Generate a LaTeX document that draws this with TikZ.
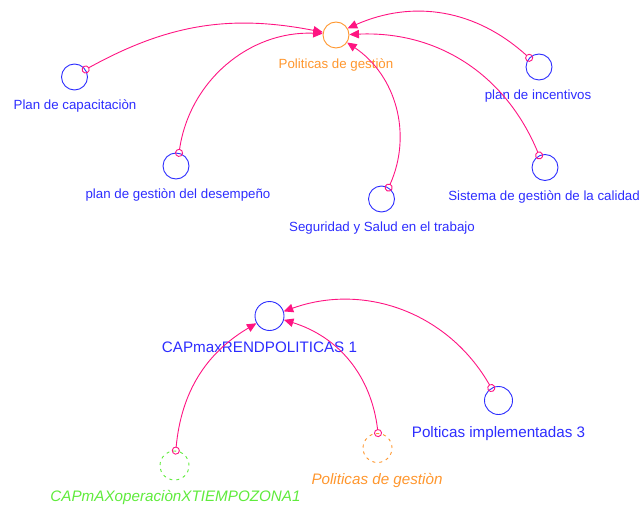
\documentclass[tikz,border=0pt]{standalone}
\usepackage{fontspec}
\setmainfont{Liberation Sans}
\usetikzlibrary{arrows.meta}
\definecolor{varblue}{RGB}{45,45,255}
\definecolor{varorange}{RGB}{255,150,45}
\definecolor{vargreen}{RGB}{95,235,60}
\definecolor{linkpink}{RGB}{255,20,130}
\tikzset{
  var/.style={circle,draw=varblue,line width=0.9pt,minimum size=#1,inner sep=0pt},
  var/.default=26pt,
  shadowvar/.style={circle,dashed,dash pattern=on 3pt off 4pt,line width=0.9pt,minimum size=29pt,inner sep=0pt},
  smalllabel/.style={anchor=base,inner sep=0pt,font=\fontsize{13.3}{16}\selectfont},
  biglabel/.style={anchor=base,inner sep=0pt,font=\fontsize{15.2}{18}\selectfont},
  link/.style={draw=linkpink,line width=0.9pt,
    {Circle[open,length=8pt,width=8pt]}-{Triangle[length=9.5pt,width=8.5pt]},
    shorten <=-4pt},
}
\begin{document}
\begin{tikzpicture}[x=1pt,y=1pt]
\useasboundingbox (0,0) rectangle (639,507);

% upper sketch: inputs to the management policy variable
\node[var,draw=varorange] (pol) at (336,472) {};
\node[smalllabel,text=varorange] (polL) at (336,438.5) {Politicas de gestiòn};

\node[var] (pc) at (74.5,430) {};
\node[smalllabel,text=varblue] (pcL) at (75,397) {Plan de capacitaciòn};

\node[var] (pgd) at (176,341) {};
\node[smalllabel,text=varblue] (pgdL) at (178,309) {plan de gestiòn del desempeño};

\node[var] (ss) at (381.5,308) {};
\node[smalllabel,text=varblue] (ssL) at (382,275.3) {Seguridad y Salud en el trabajo};

\node[var] (pi) at (539,440) {};
\node[smalllabel,text=varblue] (piL) at (538,407.5) {plan de incentivos};

\node[var] (sg) at (545,339.5) {};
\node[smalllabel,text=varblue] (sgL) at (544,307) {Sistema de gestiòn de la calidad};

\draw[link] (pc.34)  to[bend left=20]  (pol.168);
\draw[link] (pgd.77) to[bend left=42]  (pol.174);
\draw[link] (pi.137) to[bend right=33] (pol.30);
\draw[link] (sg.116) to[bend right=35] (pol.2);
\draw[link] (ss.58)  to[bend right=40] (pol.-34);

% lower sketch: maximum capacity from policies
\node[var=29pt] (cap) at (269.5,191) {};
\node[biglabel,text=varblue] (capL) at (259.5,154.3) {CAPmaxRENDPOLITICAS 1};

\node[var=28pt] (pim) at (498.5,106.5) {};
\node[biglabel,text=varblue] (pimL) at (498.5,70) {Polticas implementadas 3};

\node[shadowvar,draw=varorange] (ps) at (377.5,59) {};
\node[biglabel,text=varorange,font=\fontsize{15.2}{18}\selectfont\itshape] (psL) at (377,23) {Politicas de gestiòn};

\node[shadowvar,draw=vargreen] (cx) at (174.5,41.5) {};
\node[biglabel,text=vargreen,font=\fontsize{15.2}{18}\selectfont\itshape] (cxL) at (175.5,5.3) {CAPmAXoperaciònXTIEMPOZONA1};

\draw[link] (cx.85)   to[bend left=27]  (cap.209);
\draw[link] (ps.88)   to[bend right=33] (cap.-15);
\draw[link] (pim.120) to[bend right=40] (cap.18);
\end{tikzpicture}
\end{document}
